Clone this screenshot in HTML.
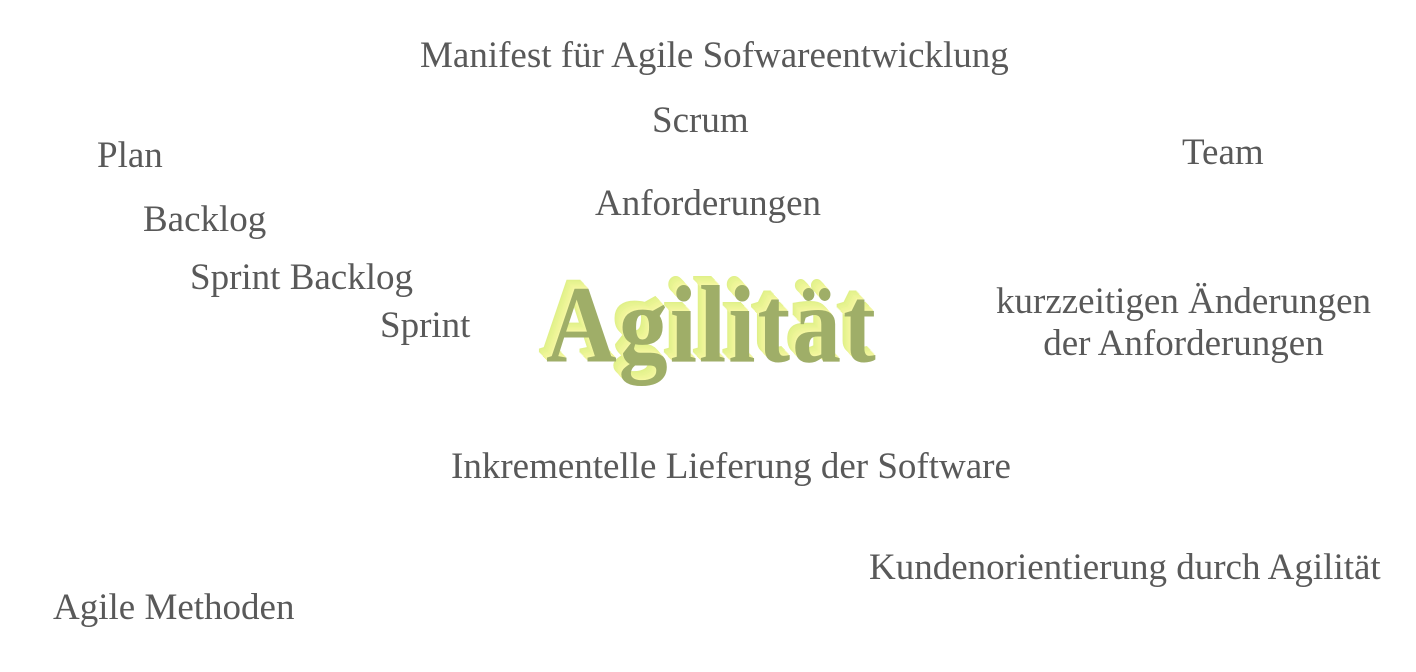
<!DOCTYPE html>
<html><head><meta charset="utf-8"><style>
body{margin:0;width:1416px;height:672px;background:#fff;position:relative;overflow:hidden;font-family:"Liberation Serif",serif}
.w{position:absolute;font-size:37px;line-height:1;color:#595959;white-space:nowrap}
#ag{position:absolute;left:546px;top:281px;font-size:98px;font-weight:bold;line-height:1;color:#9fae68;letter-spacing:2px;transform:scaleY(1.12);transform-origin:0 87px;
text-shadow:-1px -1px 0 #f4f7a0,-2px -2px 0 #f0f59a,-3px -3px 0 #eef598,-4px -4px 0 #ecf595,-5px -5px 0 #e8f392,-6px -6px 0 #e6f390,-7px -7px 0 #e4f28c,-8px -8px 0 #e0f08a}
</style></head><body>
<div class="w" style="left:420px;top:37px">Manifest für Agile Sofwareentwicklung</div>
<div class="w" style="left:652px;top:102px">Scrum</div>
<div class="w" style="left:97px;top:137px">Plan</div>
<div class="w" style="left:1182px;top:134px">Team</div>
<div class="w" style="left:595px;top:185px">Anforderungen</div>
<div class="w" style="left:143px;top:201px">Backlog</div>
<div class="w" style="left:190px;top:259px">Sprint Backlog</div>
<div class="w" style="left:380px;top:307px">Sprint</div>
<div class="w" style="left:996px;top:281px;text-align:center;line-height:42px">kurzzeitigen Änderungen<br>der Anforderungen</div>
<div class="w" style="left:451px;top:448px">Inkrementelle Lieferung der Software</div>
<div class="w" style="left:869px;top:549px">Kundenorientierung durch Agilität</div>
<div class="w" style="left:53px;top:589px">Agile Methoden</div>
<div id="ag">Agilität</div>
</body></html>
